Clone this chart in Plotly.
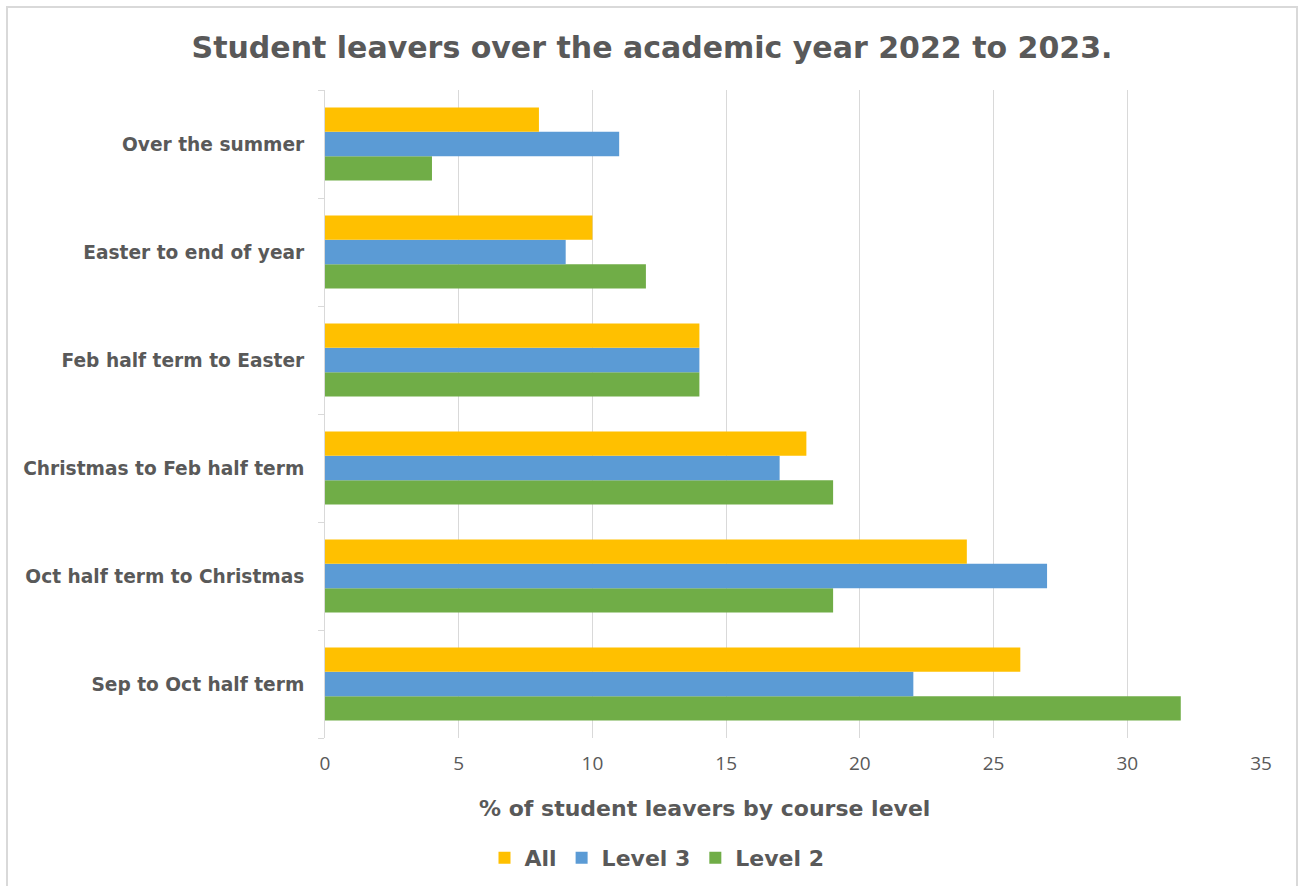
import plotly.graph_objects as go

categories = ["Sep to Oct half term", "Oct half term to Christmas", "Christmas to Feb half term",
              "Feb half term to Easter", "Easter to end of year", "Over the summer"]
all_vals = [26, 24, 18, 14, 10, 8]
level3_vals = [22, 27, 17, 14, 9, 11]
level2_vals = [32, 19, 19, 14, 12, 4]
x_ticks = [0, 5, 10, 15, 20, 25, 30, 35]

W, H = 1306, 886
L, R, T, B = 325, 1261, 90, 738
TXT = "#595959"
BOLD = "DejaVu Sans"
REG = "Open Sans"

def px(x):
    return (x - L) / (R - L)

def py(y):
    return (B - y) / (B - T)

fig = go.Figure()
fig.add_trace(go.Bar(y=categories, x=level2_vals, name="<b>Level 2</b>", orientation="h",
                     marker=dict(color="#70AD47", line=dict(width=0)), legendrank=3))
fig.add_trace(go.Bar(y=categories, x=level3_vals, name="<b>Level 3</b>", orientation="h",
                     marker=dict(color="#5B9BD5", line=dict(width=0)), legendrank=2))
fig.add_trace(go.Bar(y=categories, x=all_vals, name="<b>All</b>", orientation="h",
                     marker=dict(color="#FFC000", line=dict(width=0)), legendrank=1))

fig.update_layout(
    width=W, height=H,
    margin=dict(l=L, r=W - R, t=T, b=H - B, autoexpand=False),
    paper_bgcolor="white", plot_bgcolor="white",
    barmode="group", bargap=0.324, bargroupgap=0,
    font=dict(family=REG, color=TXT),
    title=dict(text="<b>Student leavers over the academic year 2022 to 2023.</b>",
               x=px(652), xref="paper", xanchor="center",
               y=1 - 47 / H, yanchor="middle", yref="container",
               font=dict(size=30, color=TXT, family=BOLD)),
    xaxis=dict(range=[0, 35], tickvals=x_ticks, showgrid=True, gridcolor="#D9D9D9", gridwidth=1,
               zeroline=False, showline=False, ticks="", tickfont=dict(size=19, color=TXT, family=REG),
               ticklabelstandoff=12, fixedrange=True),
    yaxis=dict(showgrid=False, zeroline=False, showline=True, linecolor="#D9D9D9", linewidth=1,
               ticks="outside", tickson="boundaries", ticklen=6, tickcolor="#D9D9D9",
               tickfont=dict(size=18.6, color=TXT, family=BOLD), ticklabelstandoff=16,
               tickvals=categories, ticktext=[f"<b>{c}</b>" for c in categories]),
    legend=dict(orientation="h", x=px(657), xanchor="center", y=py(858), yanchor="middle",
                font=dict(size=22, color=TXT, family=BOLD), itemwidth=30, tracegroupgap=0,
                itemsizing="constant"),
    showlegend=True,
    annotations=[dict(text="<b>% of student leavers by course level</b>", xref="paper", yref="paper",
                      x=px(704), y=py(808), xanchor="center", yanchor="middle", showarrow=False,
                      font=dict(size=22, color=TXT, family=BOLD))],
    shapes=[dict(type="rect", xref="paper", yref="paper", x0=px(7), x1=px(1297), y0=py(895), y1=py(7),
                 line=dict(color="#D9D9D9", width=2), layer="below")],
)

fig.write_html("out.html")
